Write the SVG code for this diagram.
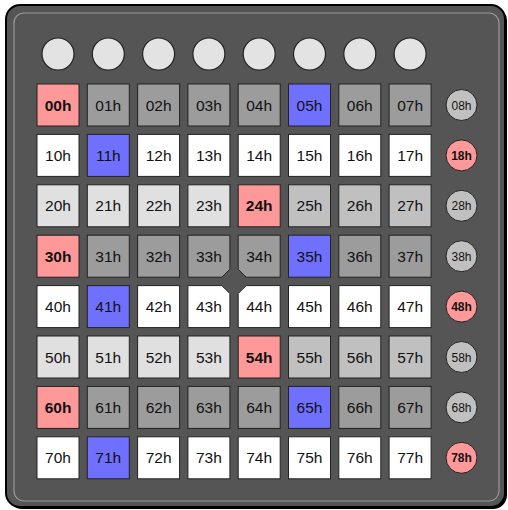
<svg xmlns="http://www.w3.org/2000/svg" width="508" height="510" viewBox="0 0 508 510">
<defs>
<style>
.c{stroke:#222;stroke-width:1}
.w{fill:#ffffff}.d{fill:#9c9c9c}.m{fill:#c0c0c0}.l{fill:#e0e0e0}.p{fill:#ff9999}.b{fill:#7070ff}
text{font-family:"Liberation Sans",Arial,sans-serif;font-size:15.5px;fill:#111;text-anchor:middle}
text.bold{font-weight:bold}
text.s{font-size:12px}
.tc{fill:#e3e3e3;stroke:#222;stroke-width:1.2}
</style>
</defs>
<rect x="8" y="7" width="499" height="502" rx="14" fill="#000"/>
<rect x="6" y="5" width="499" height="502" rx="14" fill="#555555" stroke="#000" stroke-width="2"/>
<rect x="14" y="13" width="485" height="488" rx="10" fill="none" stroke="#999" stroke-width="1.2"/>
<g id="top-buttons">
<circle class="tc" cx="58" cy="54" r="16"/>
<circle class="tc" cx="108.3" cy="54" r="16"/>
<circle class="tc" cx="158.6" cy="54" r="16"/>
<circle class="tc" cx="208.9" cy="54" r="16"/>
<circle class="tc" cx="259.2" cy="54" r="16"/>
<circle class="tc" cx="309.5" cy="54" r="16"/>
<circle class="tc" cx="359.8" cy="54" r="16"/>
<circle class="tc" cx="410.1" cy="54" r="16"/>
</g>
<g id="row0">
<g id="n00"><rect class="c p" x="37" y="84" width="42" height="42"/><text class="bold" x="58" y="110.5">00h</text></g>
<g id="n01"><rect class="c d" x="87.3" y="84" width="42" height="42"/><text x="108.3" y="110.5">01h</text></g>
<g id="n02"><rect class="c d" x="137.6" y="84" width="42" height="42"/><text x="158.6" y="110.5">02h</text></g>
<g id="n03"><rect class="c d" x="187.9" y="84" width="42" height="42"/><text x="208.9" y="110.5">03h</text></g>
<g id="n04"><rect class="c d" x="238.2" y="84" width="42" height="42"/><text x="259.2" y="110.5">04h</text></g>
<g id="n05"><rect class="c b" x="288.5" y="84" width="42" height="42"/><text x="309.5" y="110.5">05h</text></g>
<g id="n06"><rect class="c d" x="338.8" y="84" width="42" height="42"/><text x="359.8" y="110.5">06h</text></g>
<g id="n07"><rect class="c d" x="389.1" y="84" width="42" height="42"/><text x="410.1" y="110.5">07h</text></g>
<g id="n08"><circle class="c m" cx="461.5" cy="105" r="15.5"/><text class="s" x="461.5" y="109.5">08h</text></g>
</g>
<g id="row1">
<g id="n10"><rect class="c w" x="37" y="134.4" width="42" height="42"/><text x="58" y="160.9">10h</text></g>
<g id="n11"><rect class="c b" x="87.3" y="134.4" width="42" height="42"/><text x="108.3" y="160.9">11h</text></g>
<g id="n12"><rect class="c w" x="137.6" y="134.4" width="42" height="42"/><text x="158.6" y="160.9">12h</text></g>
<g id="n13"><rect class="c w" x="187.9" y="134.4" width="42" height="42"/><text x="208.9" y="160.9">13h</text></g>
<g id="n14"><rect class="c w" x="238.2" y="134.4" width="42" height="42"/><text x="259.2" y="160.9">14h</text></g>
<g id="n15"><rect class="c w" x="288.5" y="134.4" width="42" height="42"/><text x="309.5" y="160.9">15h</text></g>
<g id="n16"><rect class="c w" x="338.8" y="134.4" width="42" height="42"/><text x="359.8" y="160.9">16h</text></g>
<g id="n17"><rect class="c w" x="389.1" y="134.4" width="42" height="42"/><text x="410.1" y="160.9">17h</text></g>
<g id="n18"><circle class="c p" cx="461.5" cy="155.4" r="15.5"/><text class="s bold" x="461.5" y="159.9">18h</text></g>
</g>
<g id="row2">
<g id="n20"><rect class="c l" x="37" y="184.8" width="42" height="42"/><text x="58" y="211.3">20h</text></g>
<g id="n21"><rect class="c l" x="87.3" y="184.8" width="42" height="42"/><text x="108.3" y="211.3">21h</text></g>
<g id="n22"><rect class="c l" x="137.6" y="184.8" width="42" height="42"/><text x="158.6" y="211.3">22h</text></g>
<g id="n23"><rect class="c l" x="187.9" y="184.8" width="42" height="42"/><text x="208.9" y="211.3">23h</text></g>
<g id="n24"><rect class="c p" x="238.2" y="184.8" width="42" height="42"/><text class="bold" x="259.2" y="211.3">24h</text></g>
<g id="n25"><rect class="c m" x="288.5" y="184.8" width="42" height="42"/><text x="309.5" y="211.3">25h</text></g>
<g id="n26"><rect class="c m" x="338.8" y="184.8" width="42" height="42"/><text x="359.8" y="211.3">26h</text></g>
<g id="n27"><rect class="c m" x="389.1" y="184.8" width="42" height="42"/><text x="410.1" y="211.3">27h</text></g>
<g id="n28"><circle class="c m" cx="461.5" cy="205.8" r="15.5"/><text class="s" x="461.5" y="210.3">28h</text></g>
</g>
<g id="row3">
<g id="n30"><rect class="c p" x="37" y="235.2" width="42" height="42"/><text class="bold" x="58" y="261.7">30h</text></g>
<g id="n31"><rect class="c d" x="87.3" y="235.2" width="42" height="42"/><text x="108.3" y="261.7">31h</text></g>
<g id="n32"><rect class="c d" x="137.6" y="235.2" width="42" height="42"/><text x="158.6" y="261.7">32h</text></g>
<g id="n33"><path class="c d" d="M187.9 235.2H229.9V269.2L221.9 277.2H187.9Z"/><text x="208.9" y="261.7">33h</text></g>
<g id="n34"><path class="c d" d="M238.2 235.2H280.2V277.2H246.2L238.2 269.2Z"/><text x="259.2" y="261.7">34h</text></g>
<g id="n35"><rect class="c b" x="288.5" y="235.2" width="42" height="42"/><text x="309.5" y="261.7">35h</text></g>
<g id="n36"><rect class="c d" x="338.8" y="235.2" width="42" height="42"/><text x="359.8" y="261.7">36h</text></g>
<g id="n37"><rect class="c d" x="389.1" y="235.2" width="42" height="42"/><text x="410.1" y="261.7">37h</text></g>
<g id="n38"><circle class="c m" cx="461.5" cy="256.2" r="15.5"/><text class="s" x="461.5" y="260.7">38h</text></g>
</g>
<g id="row4">
<g id="n40"><rect class="c w" x="37" y="285.6" width="42" height="42"/><text x="58" y="312.1">40h</text></g>
<g id="n41"><rect class="c b" x="87.3" y="285.6" width="42" height="42"/><text x="108.3" y="312.1">41h</text></g>
<g id="n42"><rect class="c w" x="137.6" y="285.6" width="42" height="42"/><text x="158.6" y="312.1">42h</text></g>
<g id="n43"><path class="c w" d="M187.9 285.6H221.9L229.9 293.6V327.6H187.9Z"/><text x="208.9" y="312.1">43h</text></g>
<g id="n44"><path class="c w" d="M246.2 285.6H280.2V327.6H238.2V293.6Z"/><text x="259.2" y="312.1">44h</text></g>
<g id="n45"><rect class="c w" x="288.5" y="285.6" width="42" height="42"/><text x="309.5" y="312.1">45h</text></g>
<g id="n46"><rect class="c w" x="338.8" y="285.6" width="42" height="42"/><text x="359.8" y="312.1">46h</text></g>
<g id="n47"><rect class="c w" x="389.1" y="285.6" width="42" height="42"/><text x="410.1" y="312.1">47h</text></g>
<g id="n48"><circle class="c p" cx="461.5" cy="306.6" r="15.5"/><text class="s bold" x="461.5" y="311.1">48h</text></g>
</g>
<g id="row5">
<g id="n50"><rect class="c l" x="37" y="336" width="42" height="42"/><text x="58" y="362.5">50h</text></g>
<g id="n51"><rect class="c l" x="87.3" y="336" width="42" height="42"/><text x="108.3" y="362.5">51h</text></g>
<g id="n52"><rect class="c l" x="137.6" y="336" width="42" height="42"/><text x="158.6" y="362.5">52h</text></g>
<g id="n53"><rect class="c l" x="187.9" y="336" width="42" height="42"/><text x="208.9" y="362.5">53h</text></g>
<g id="n54"><rect class="c p" x="238.2" y="336" width="42" height="42"/><text class="bold" x="259.2" y="362.5">54h</text></g>
<g id="n55"><rect class="c m" x="288.5" y="336" width="42" height="42"/><text x="309.5" y="362.5">55h</text></g>
<g id="n56"><rect class="c m" x="338.8" y="336" width="42" height="42"/><text x="359.8" y="362.5">56h</text></g>
<g id="n57"><rect class="c m" x="389.1" y="336" width="42" height="42"/><text x="410.1" y="362.5">57h</text></g>
<g id="n58"><circle class="c m" cx="461.5" cy="357" r="15.5"/><text class="s" x="461.5" y="361.5">58h</text></g>
</g>
<g id="row6">
<g id="n60"><rect class="c p" x="37" y="386.4" width="42" height="42"/><text class="bold" x="58" y="412.9">60h</text></g>
<g id="n61"><rect class="c d" x="87.3" y="386.4" width="42" height="42"/><text x="108.3" y="412.9">61h</text></g>
<g id="n62"><rect class="c d" x="137.6" y="386.4" width="42" height="42"/><text x="158.6" y="412.9">62h</text></g>
<g id="n63"><rect class="c d" x="187.9" y="386.4" width="42" height="42"/><text x="208.9" y="412.9">63h</text></g>
<g id="n64"><rect class="c d" x="238.2" y="386.4" width="42" height="42"/><text x="259.2" y="412.9">64h</text></g>
<g id="n65"><rect class="c b" x="288.5" y="386.4" width="42" height="42"/><text x="309.5" y="412.9">65h</text></g>
<g id="n66"><rect class="c d" x="338.8" y="386.4" width="42" height="42"/><text x="359.8" y="412.9">66h</text></g>
<g id="n67"><rect class="c d" x="389.1" y="386.4" width="42" height="42"/><text x="410.1" y="412.9">67h</text></g>
<g id="n68"><circle class="c m" cx="461.5" cy="407.4" r="15.5"/><text class="s" x="461.5" y="411.9">68h</text></g>
</g>
<g id="row7">
<g id="n70"><rect class="c w" x="37" y="436.8" width="42" height="42"/><text x="58" y="463.3">70h</text></g>
<g id="n71"><rect class="c b" x="87.3" y="436.8" width="42" height="42"/><text x="108.3" y="463.3">71h</text></g>
<g id="n72"><rect class="c w" x="137.6" y="436.8" width="42" height="42"/><text x="158.6" y="463.3">72h</text></g>
<g id="n73"><rect class="c w" x="187.9" y="436.8" width="42" height="42"/><text x="208.9" y="463.3">73h</text></g>
<g id="n74"><rect class="c w" x="238.2" y="436.8" width="42" height="42"/><text x="259.2" y="463.3">74h</text></g>
<g id="n75"><rect class="c w" x="288.5" y="436.8" width="42" height="42"/><text x="309.5" y="463.3">75h</text></g>
<g id="n76"><rect class="c w" x="338.8" y="436.8" width="42" height="42"/><text x="359.8" y="463.3">76h</text></g>
<g id="n77"><rect class="c w" x="389.1" y="436.8" width="42" height="42"/><text x="410.1" y="463.3">77h</text></g>
<g id="n78"><circle class="c p" cx="461.5" cy="457.8" r="15.5"/><text class="s bold" x="461.5" y="462.3">78h</text></g>
</g>
<g id="connectors"/>
</svg>
